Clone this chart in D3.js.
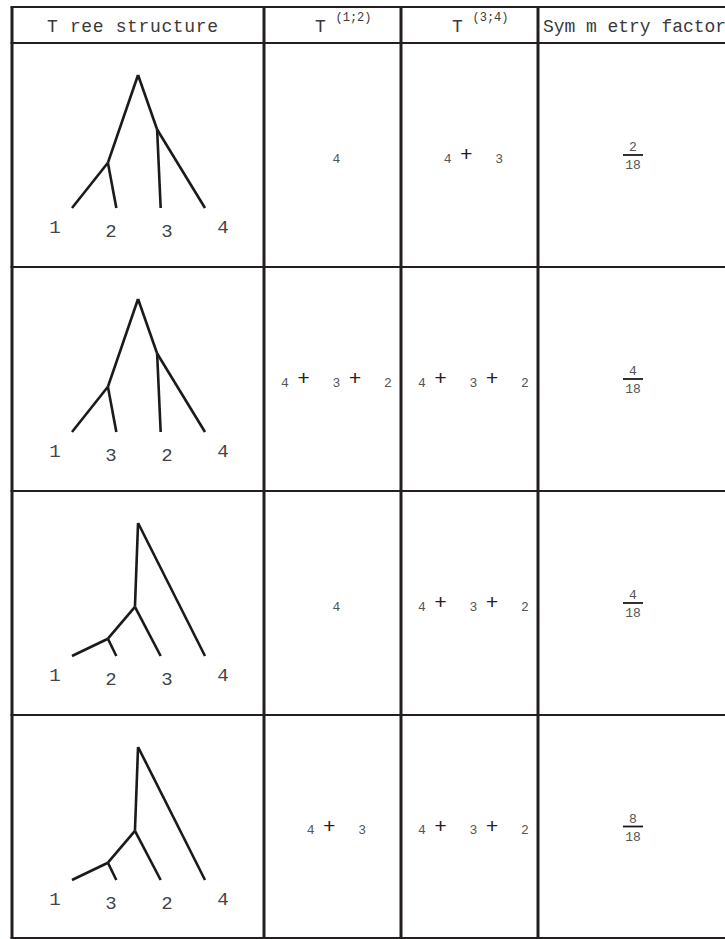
<!DOCTYPE html>
<html>
<head>
<meta charset="utf-8">
<script src="https://cdn.jsdelivr.net/npm/d3@7"></script>
<style>
  body { margin: 0; background: #fff; }
  svg { display: block; }
</style>
</head>
<body>
<svg id="chart" width="725" height="939"></svg>
<script>
// column headers (the missing symbols of the original are left out, as in the picture)
var headers = ['T ree structure', 'T', 'T', 'Sym m etry factor'];
var headerSup = [null, '(1;2)', '(3;4)', null];

// leaf labels for each row's tree
var leafLabels = [['1', '2', '3', '4'], ['1', '3', '2', '4'], ['1', '2', '3', '4'], ['1', '3', '2', '4']];
// which tree shape each row uses
var rowShape = ['balanced', 'balanced', 'caterpillar', 'caterpillar'];

// tree shapes: x in leaf units, h = height above the leaves (root = 1)
var balanced = [
  { id: 'r', x: 1.49, h: 1.0, parent: null },
  { id: 'a', x: 0.81, h: 0.34, parent: 'r' },
  { id: 'b', x: 1.92, h: 0.59, parent: 'r' },
  { id: 'l0', x: 0, h: 0, parent: 'a' },
  { id: 'l1', x: 1, h: 0, parent: 'a' },
  { id: 'l2', x: 2, h: 0, parent: 'b' },
  { id: 'l3', x: 3, h: 0, parent: 'b' }
];
var caterpillar = [
  { id: 'r', x: 1.49, h: 1.0, parent: null },
  { id: 'a', x: 1.42, h: 0.37, parent: 'r' },
  { id: 'b', x: 0.81, h: 0.13, parent: 'a' },
  { id: 'l0', x: 0, h: 0, parent: 'b' },
  { id: 'l1', x: 1, h: 0, parent: 'b' },
  { id: 'l2', x: 2, h: 0, parent: 'a' },
  { id: 'l3', x: 3, h: 0, parent: 'r' }
];

// subscripts of the terms in each cell
var t12 = [['4'], ['4', '3', '2'], ['4'], ['4', '3']];
var t34 = [['4', '3'], ['4', '3', '2'], ['4', '3', '2'], ['4', '3', '2']];
// symmetry factor numerators over a common denominator
var symNum = [2, 4, 4, 8];
var symDen = 18;

var svg = d3.select('#chart');
var colEdges = [12, 264, 401, 538, 728];
var rowEdges = [7, 43, 267, 491, 715, 938];
var lineColor = '#231f20';
var mono = '"Liberation Mono", "DejaVu Sans Mono", monospace';

// ---- table grid
var grid = svg.append('g');
grid.selectAll('line.h')
  .data(rowEdges)
  .enter().append('line')
  .attr('class', 'h')
  .attr('x1', colEdges[0] - 1.5).attr('x2', colEdges[4] + 1.5)
  .attr('y1', d => d).attr('y2', d => d)
  .attr('stroke', lineColor)
  .attr('stroke-width', (d, i) => i == 0 ? 2 : 2.2);
grid.selectAll('line.v')
  .data(colEdges)
  .enter().append('line')
  .attr('class', 'v')
  .attr('x1', d => d).attr('x2', d => d)
  .attr('y1', rowEdges[0]).attr('y2', rowEdges[rowEdges.length - 1])
  .attr('stroke', lineColor)
  .attr('stroke-width', 3);

function colCenter(i) { return (colEdges[i] + colEdges[i + 1]) / 2; }
function rowCenter(i) { return (rowEdges[i + 1] + rowEdges[i + 2]) / 2; }

// ---- header
var headerY = 32;
svg.append('text')
  .attr('x', 47).attr('y', headerY)
  .attr('textLength', 171).attr('lengthAdjust', 'spacing')
  .style('font-family', mono).style('font-size', '18px').style('fill', '#3a3a3a')
  .text(headers[0]);
svg.append('text')
  .attr('x', 543).attr('y', headerY)
  .attr('textLength', 183).attr('lengthAdjust', 'spacing')
  .style('font-family', mono).style('font-size', '18px').style('fill', '#3a3a3a')
  .text(headers[3]);
[1, 2].forEach(function(c) {
  var cx = colCenter(c);
  svg.append('text')
    .attr('x', cx - 12).attr('y', headerY)
    .attr('text-anchor', 'middle')
    .style('font-family', mono).style('font-size', '18px').style('fill', '#3a3a3a')
    .text(headers[c]);
  svg.append('text')
    .attr('x', cx + 3).attr('y', headerY - 11)
    .style('font-family', mono).style('font-size', '12px').style('fill', '#3a3a3a')
    .text(headerSup[c]);
});

// ---- trees
var xTree = d3.scaleLinear().domain([0, 3]).range([72, 205]);
var xLabel = d3.scaleLinear().domain([0, 3]).range([55, 223]);
var yTree = d3.scaleLinear().domain([0, 1]).range([165, 32]);

leafLabels.forEach(function(labels, r) {
  var top = rowEdges[r + 1];
  var nodes = rowShape[r] == 'balanced' ? balanced : caterpillar;
  var byId = {};
  nodes.forEach(n => byId[n.id] = n);
  var g = svg.append('g').attr('transform', `translate(0,${top})`);

  g.selectAll('line')
    .data(nodes.filter(n => n.parent))
    .enter().append('line')
    .attr('x1', d => xTree(byId[d.parent].x))
    .attr('y1', d => yTree(byId[d.parent].h))
    .attr('x2', d => xTree(d.x))
    .attr('y2', d => yTree(d.h))
    .attr('stroke', '#1a1a1a')
    .attr('stroke-width', 2.6)
    .attr('stroke-linecap', 'butt');

  g.selectAll('text')
    .data(labels)
    .enter().append('text')
    .attr('x', (d, i) => xLabel(i))
    .attr('y', (d, i) => (i == 0 || i == 3) ? 190 : 194)
    .attr('text-anchor', 'middle')
    .style('font-family', mono).style('font-size', '19px').style('fill', '#444')
    .text(d => d);
});

// ---- term cells: subscript digits joined by "+"
function drawTerms(terms, col, row) {
  var step = 51.5;
  var cx = colCenter(col);
  var cy = rowCenter(row);
  var mid = cx + 4;
  var x0 = mid - (terms.length - 1) * step / 2;
  var g = svg.append('g');
  terms.forEach(function(t, i) {
    var x = x0 + i * step;
    g.append('text')
      .attr('x', x).attr('y', cy + 7.5)
      .attr('text-anchor', 'middle')
      .style('font-family', mono).style('font-size', '13px').style('fill', '#555')
      .text(t);
    if (i < terms.length - 1) {
      g.append('text')
        .attr('x', x + 18.5).attr('y', cy + 6)
        .attr('text-anchor', 'middle')
        .style('font-family', mono).style('font-size', '21px').style('fill', '#222')
        .text('+');
    }
  });
}
t12.forEach((terms, r) => drawTerms(terms, 1, r));
t34.forEach((terms, r) => drawTerms(terms, 2, r));

// ---- symmetry factors
symNum.forEach(function(n, r) {
  var cx = colCenter(3);
  var cy = rowCenter(r);
  var g = svg.append('g');
  g.append('text')
    .attr('x', cx).attr('y', cy - 4)
    .attr('text-anchor', 'middle')
    .style('font-family', mono).style('font-size', '13px').style('fill', '#555')
    .text(n);
  g.append('line')
    .attr('x1', cx - 10).attr('x2', cx + 10)
    .attr('y1', cy).attr('y2', cy)
    .attr('stroke', '#1a1a1a').attr('stroke-width', 1.8);
  g.append('text')
    .attr('x', cx).attr('y', cy + 14)
    .attr('text-anchor', 'middle')
    .style('font-family', mono).style('font-size', '13px').style('fill', '#555')
    .text(symDen);
});
</script>
</body>
</html>
